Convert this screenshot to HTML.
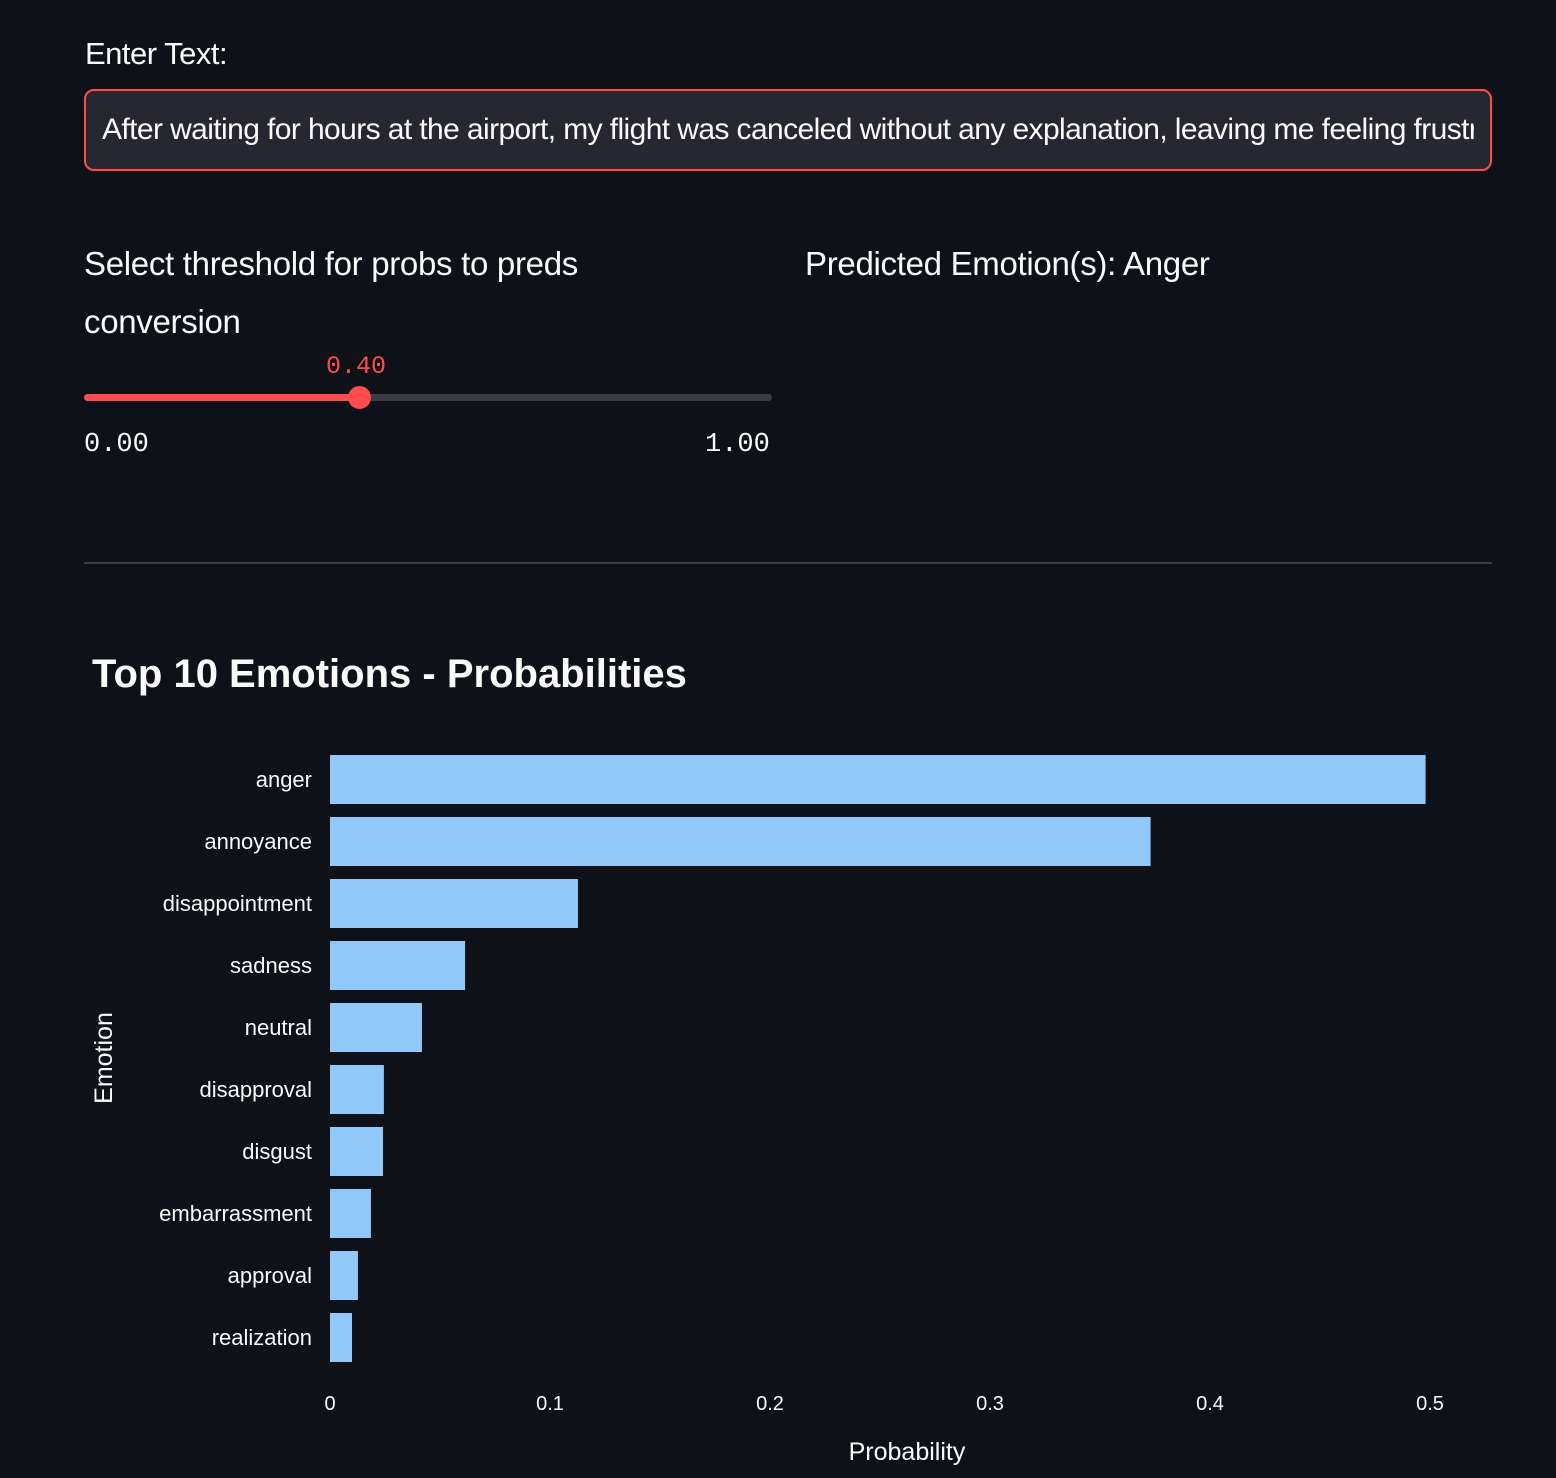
<!DOCTYPE html>
<html><head><meta charset="utf-8"><style>
html,body{margin:0;padding:0;background:#0e1117;width:1556px;height:1478px;overflow:hidden;font-family:"Liberation Sans",sans-serif;color:#fafafa}
.abs{position:absolute;white-space:nowrap}
</style></head><body>
<div class="abs" style="left:85px;top:36px;font-size:31px;letter-spacing:-0.5px">Enter Text:</div>
<div class="abs" style="left:84px;top:89px;width:1404px;height:78px;border:2px solid #ff4b4b;border-radius:10px;background:#262730;overflow:hidden">
<div style="position:absolute;left:16px;top:22px;right:16px;overflow:hidden;font-size:30px;letter-spacing:-0.6px;color:#fafafa">After waiting for hours at the airport, my flight was canceled without any explanation, leaving me feeling frustrated</div></div>
<div class="abs" style="left:84px;top:235px;font-size:33px;line-height:58px;letter-spacing:-0.3px;white-space:normal;width:580px">Select threshold for probs to preds conversion</div>
<div class="abs" style="left:805px;top:245px;font-size:33px;letter-spacing:-0.3px">Predicted Emotion(s): Anger</div>
<div class="abs" style="left:326px;top:352px;font-family:'Liberation Mono',monospace;font-size:25px;color:#ff4b4b">0.40</div>
<div class="abs" style="left:84px;top:394px;width:688px;height:7px;border-radius:4px;background:#3a3b43"></div>
<div class="abs" style="left:84px;top:394px;width:275px;height:7px;border-radius:4px;background:#ff4b4b"></div>
<div class="abs" style="left:348px;top:386px;width:23px;height:23px;border-radius:50%;background:#ff4b4b"></div>
<div class="abs" style="left:84px;top:430px;font-family:'Liberation Mono',monospace;font-size:27px">0.00</div>
<div class="abs" style="left:705px;top:430px;font-family:'Liberation Mono',monospace;font-size:27px">1.00</div>
<div class="abs" style="left:84px;top:562px;width:1408px;height:2px;background:#3b3d45"></div>
<svg id="chart" class="abs" style="left:0;top:600px" width="1556" height="878"></svg>
<script>
const categories=["anger","annoyance","disappointment","sadness","neutral","disapproval","disgust","embarrassment","approval","realization"];
const values=[0.498,0.373,0.1127,0.0614,0.0418,0.0245,0.0241,0.0186,0.0127,0.010];
const ticks=[0,0.1,0.2,0.3,0.4,0.5];
const tickLabels=["0","0.1","0.2","0.3","0.4","0.5"];
const svg=document.getElementById('chart');
const NS="http://www.w3.org/2000/svg";
const x=v=>330+v*2200;
const y=i=>755+i*62-600;
function mk(t,a){const e=document.createElementNS(NS,t);for(const k in a)e.setAttribute(k,a[k]);svg.appendChild(e);return e;}
let t=mk('text',{x:92,y:87,fill:'#fafafa','font-size':40,'font-weight':'bold','font-family':'Liberation Sans,sans-serif'});
t.textContent="Top 10 Emotions - Probabilities";


categories.forEach((c,i)=>{
 const r=mk('rect',{x:x(0),y:y(i),width:x(values[i])-x(0),height:49,fill:'#90c8f9'});
 
 
 const l=mk('text',{x:312,y:y(i)+32,fill:'#fafafa','font-size':22,'text-anchor':'end','font-family':'Liberation Sans,sans-serif'});
 l.textContent=c;
 
 
});
ticks.forEach((v,i)=>{
 const l=mk('text',{x:x(v),y:810,fill:'#fafafa','font-size':20,'text-anchor':'middle','font-family':'Liberation Sans,sans-serif'});
 l.textContent=tickLabels[i];
 
 
});
let xt=mk('text',{x:907,y:860,fill:'#fafafa','font-size':25,'text-anchor':'middle','font-family':'Liberation Sans,sans-serif'});
xt.textContent="Probability";


let yt=mk('text',{x:0,y:0,fill:'#fafafa','font-size':25,'text-anchor':'middle','font-family':'Liberation Sans,sans-serif',transform:'translate(112,458) rotate(-90)'});
yt.textContent="Emotion";


</script>
</body></html>
